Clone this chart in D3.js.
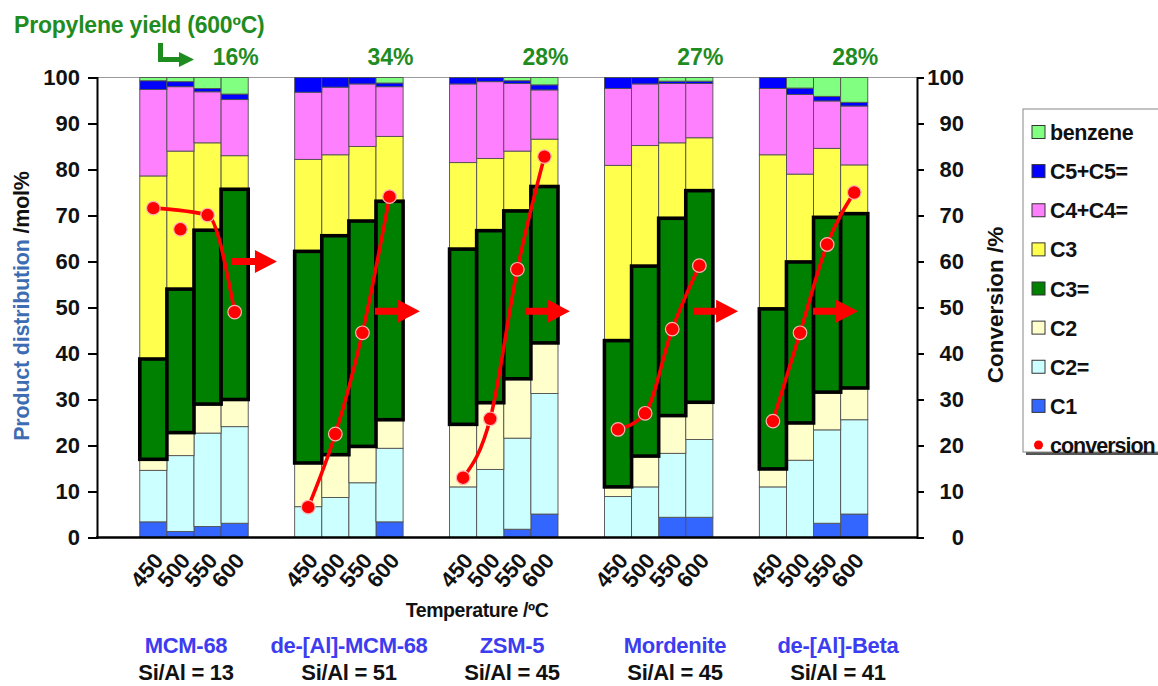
<!DOCTYPE html>
<html><head><meta charset="utf-8">
<script src="https://cdn.jsdelivr.net/npm/d3@7"></script>
<style>body{margin:0;background:#fff}svg{display:block;font-family:"Liberation Sans",Arial,sans-serif}</style>
</head><body><svg id="chart" width="1158" height="686"></svg>
<script>
// ---------------- data ----------------
const catalysts = ["MCM-68", "de-[Al]-MCM-68", "ZSM-5", "Mordenite", "de-[Al]-Beta"];
const siAlRatios = ["Si/Al = 13", "Si/Al = 51", "Si/Al = 45", "Si/Al = 45", "Si/Al = 41"];
const temperatures = ["450", "500", "550", "600"];
const propyleneYield = ["16%", "34%", "28%", "27%", "28%"];
const seriesNames = ["C1", "C2=", "C2", "C3=", "C3", "C4+C4=", "C5+C5=", "benzene"];
const yTicks = [0, 10, 20, 30, 40, 50, 60, 70, 80, 90, 100];
// product distribution (mol%), catalyst-major / temperature-minor order
const C1      = [3.4, 1.3, 2.4, 3.1,   0, 0, 0, 3.4,        0, 0, 1.8, 5.1,      0, 0, 4.4, 4.4,      0, 0, 3.1, 5.1];
const C2ene   = [11.2, 16.5, 20.3, 21.0,  6.7, 8.7, 11.9, 16.0,  11.0, 14.8, 19.8, 26.2,  8.9, 11.0, 13.9, 16.9,  11.0, 16.8, 20.3, 20.5];
const C2      = [2.4, 5.0, 6.3, 5.9,   9.5, 9.3, 7.9, 6.2,    13.6, 14.5, 12.9, 11.0,  2.1, 6.7, 8.2, 8.1,    3.9, 8.1, 8.2, 6.9];
const C3ene   = [21.8, 31.2, 37.8, 45.7,  46.0, 47.6, 49.0, 47.5,  38.1, 37.4, 36.5, 34.0,  31.8, 41.3, 42.9, 46.0,  34.8, 35.0, 38.0, 37.9];
const C3      = [39.8, 30.0, 19.0, 7.3,  20.0, 17.6, 16.2, 14.1,  18.8, 15.7, 13.0, 10.3,  38.1, 26.2, 16.4, 11.5,  33.5, 19.1, 15.0, 10.6];
const C4      = [18.8, 14.0, 11.1, 12.2,  14.6, 14.7, 13.6, 10.8,  17.1, 16.7, 14.7, 10.7,  16.7, 13.4, 12.9, 11.8,  14.4, 17.3, 10.3, 12.8];
const C5      = [1.9, 1.1, 0.7, 1.2,   3.2, 2.1, 1.4, 0.8,    1.4, 0.9, 0.6, 1.1,    2.4, 1.4, 0.5, 0.5,    2.4, 1.4, 1.0, 0.8];
const benzene = [0.7, 0.9, 2.4, 3.6,   0, 0, 0, 1.2,          0, 0, 0.7, 1.6,        0, 0, 0.8, 0.8,        0, 2.3, 4.1, 5.4];
// conversion (%)
const conversion = [71.6, 67.0, 70.1, 49.0,  6.6, 22.5, 44.5, 74.1,  13.0, 25.8, 58.3, 82.8,  23.5, 27.0, 45.3, 59.1,  25.3, 44.5, 63.7, 75.0];
// temperatures left out of the drawn conversion trend line, per catalyst
const trendExcluded = [["500"], [], [], [], []];
// red arrow annotations: level (%) and start (in bar widths from group start)
const arrowLevel = [60, 49.2, 49.2, 49.2, 49.2];
const arrowStart = [3.4, 2.96, 2.78, 3.27, 1.98];

const seriesValues = {"C1": C1, "C2=": C2ene, "C2": C2, "C3=": C3ene, "C3": C3, "C4+C4=": C4, "C5+C5=": C5, "benzene": benzene};
const seriesColors = {"C1": "#3366ff", "C2=": "#ccffff", "C2": "#ffffcc", "C3=": "#008000", "C3": "#ffff4d", "C4+C4=": "#ff80ff", "C5+C5=": "#0000ff", "benzene": "#80ff80"};

// ---------------- layout ----------------
const svg = d3.select("#chart");
const FONT = '"Liberation Sans", Arial, sans-serif';
const GREEN = "#1f8c1f";
const plotL = 97, plotR = 917, plotT = 77.5, plotB = 537.5;

const x0 = d3.scaleBand().domain(catalysts).range([plotL, plotR]).paddingInner(0.30).paddingOuter(0.297).align(0.465);
const x1 = d3.scaleBand().domain(temperatures).range([0, x0.bandwidth()]);
const y = d3.scaleLinear().domain([0, 100]).range([plotB, plotT]);
const yConv = d3.scaleLinear().domain([0, 100]).range([plotB, plotT]);
const labelX = d3.scalePoint().domain(catalysts).range([186, 838]);

const rows = [];
catalysts.forEach((c, i) => temperatures.forEach((t, j) => {
  const r = {cat: c, temp: t, idx: i * 4 + j, conv: conversion[i * 4 + j]};
  seriesNames.forEach(s => r[s] = seriesValues[s][i * 4 + j]);
  rows.push(r);
}));
const barX = d => x0(d.cat) + x1(d.temp);
const bw = x1.bandwidth();

const stacked = d3.stack().keys(seriesNames)(rows);

// top frame line
svg.append("line").attr("x1", plotL).attr("x2", plotR).attr("y1", y(100)).attr("y2", y(100))
  .attr("stroke", "#9a9a9a").attr("stroke-width", 1.2);

// bars (normal layers first, C3= with heavy outline last)
const order = stacked.filter(l => l.key !== "C3=").concat(stacked.filter(l => l.key === "C3="));
order.forEach(layer => {
  const heavy = layer.key === "C3=";
  svg.append("g").selectAll("rect")
    .data(layer.filter(d => d[1] - d[0] > 0.001))
    .join("rect")
    .attr("x", d => barX(d.data))
    .attr("width", bw)
    .attr("y", d => y(d[1]))
    .attr("height", d => y(d[0]) - y(d[1]))
    .attr("fill", seriesColors[layer.key])
    .attr("stroke", heavy ? "#000" : "#505050")
    .attr("stroke-width", heavy ? 3.6 : 0.9);
});

// axes
const gl = svg.append("g").attr("transform", `translate(${plotL},0)`)
  .call(d3.axisLeft(y).tickValues(yTicks).tickSize(9).tickPadding(8).tickFormat(d3.format("d")));
gl.select(".domain").attr("stroke", "#000").attr("stroke-width", 2);
gl.selectAll(".tick line").attr("stroke", "#000").attr("stroke-width", 2);
gl.selectAll(".tick text").attr("font-family", FONT).attr("font-size", 22).attr("font-weight", "bold").attr("fill", "#111");

const gr = svg.append("g").attr("transform", `translate(${plotR},0)`)
  .call(d3.axisRight(yConv).tickValues(yTicks).tickSize(7).tickFormat(d3.format("d")));
gr.select(".domain").attr("stroke", "#000").attr("stroke-width", 2);
gr.selectAll(".tick line").attr("stroke", "#000").attr("stroke-width", 2);
gr.selectAll(".tick text").attr("font-family", FONT).attr("font-size", 22).attr("font-weight", "bold").attr("fill", "#111")
  .attr("text-anchor", "end").attr("x", 47);

svg.append("line").attr("x1", plotL - 1).attr("x2", plotR + 1).attr("y1", y(0)).attr("y2", y(0))
  .attr("stroke", "#000").attr("stroke-width", 2.4);

// x tick labels (rotated)
svg.append("g").selectAll("text").data(rows).join("text")
  .attr("transform", d => `translate(${barX(d) + bw / 2 + 11},561) rotate(-50)`)
  .attr("text-anchor", "end")
  .attr("font-size", 22).attr("font-weight", "bold").attr("fill", "#111")
  .text(d => d.temp);

// conversion trend lines and points
const line = d3.line().x(d => barX(d) + bw / 2).y(d => yConv(d.conv)).curve(d3.curveMonotoneX);
catalysts.forEach((c, i) => {
  const pts = rows.filter(r => r.cat === c && !trendExcluded[i].includes(r.temp));
  svg.append("path").attr("d", line(pts)).attr("fill", "none").attr("stroke", "#ff0000").attr("stroke-width", 3.6);
});
svg.append("g").selectAll("circle").data(rows).join("circle")
  .attr("cx", d => barX(d) + bw / 2).attr("cy", d => yConv(d.conv)).attr("r", 6.8)
  .attr("fill", "#ff0000").attr("stroke", "#ffb3b3").attr("stroke-width", 1.2);

// red arrows
catalysts.forEach((c, i) => {
  const xs = x0(c) + arrowStart[i] * bw, yc = y(arrowLevel[i]);
  svg.append("path")
    .attr("d", `M${xs},${yc - 3.5}H${xs + 23}V${yc - 11.5}L${xs + 45},${yc}L${xs + 23},${yc + 11.5}V${yc + 3.5}H${xs}Z`)
    .attr("fill", "#ff0000");
});

// propylene yield annotations
svg.append("text").attr("x", 14).attr("y", 33).attr("font-size", 23).attr("font-weight", "bold")
  .attr("fill", GREEN).attr("letter-spacing", -0.2).text("Propylene yield (600ºC)");
svg.append("path").attr("d", "M160.5,43V59.5H180").attr("fill", "none").attr("stroke", GREEN).attr("stroke-width", 5);
svg.append("path").attr("d", "M179,52L194,59.5L179,67Z").attr("fill", GREEN);
svg.append("g").selectAll("text").data(catalysts).join("text")
  .attr("x", (c) => x0(c) + x1("600") + bw / 2 + 1).attr("y", 65)
  .attr("text-anchor", "middle").attr("font-size", 23).attr("font-weight", "bold").attr("fill", GREEN)
  .text((c, i) => propyleneYield[i]);

// axis titles
svg.append("text").attr("transform", `translate(29,${(172 + 440) / 2}) rotate(-90)`)
  .attr("text-anchor", "middle").attr("font-size", 21.5).attr("font-weight", "bold").attr("letter-spacing", -0.2)
  .call(t => { t.append("tspan").attr("fill", "#3d6cb3").text("Product distribution "); t.append("tspan").attr("fill", "#111").text("/mol%"); });
svg.append("text").attr("transform", `translate(1003,305) rotate(-90)`)
  .attr("text-anchor", "middle").attr("font-size", 22.5).attr("font-weight", "bold")
  .attr("fill", "#111").text("Conversion /%");
svg.append("text").attr("x", (plotL + plotR) / 2 - 30).attr("y", 617).attr("text-anchor", "middle")
  .attr("font-size", 19.5).attr("font-weight", "bold").attr("letter-spacing", -0.4).attr("fill", "#111").text("Temperature /ºC");

// catalyst labels
svg.append("g").selectAll("text").data(catalysts).join("text")
  .attr("x", c => labelX(c)).attr("y", 653).attr("text-anchor", "middle")
  .attr("font-size", 22).attr("font-weight", "bold").attr("letter-spacing", -0.3).attr("fill", "#3c3cf0").text(c => c);
svg.append("g").selectAll("text").data(catalysts).join("text")
  .attr("x", c => labelX(c)).attr("y", 680).attr("text-anchor", "middle")
  .attr("font-size", 22).attr("font-weight", "bold").attr("letter-spacing", -0.3).attr("fill", "#111").text((c, i) => siAlRatios[i]);

// legend
const lg = svg.append("g");
lg.append("rect").attr("x", 1026).attr("y", 112).attr("width", 160).attr("height", 343).attr("fill", "#555");
lg.append("rect").attr("x", 1023).attr("y", 109).attr("width", 160).attr("height", 343).attr("fill", "#fff").attr("stroke", "#888").attr("stroke-width", 1);
const legendItems = seriesNames.slice().reverse().concat(["conversion"]);
const ly = d3.scalePoint().domain(legendItems).range([132, 445]);
legendItems.forEach(k => {
  const g = lg.append("g").attr("transform", `translate(1032,${ly(k)})`);
  if (k === "conversion") {
    g.append("circle").attr("cx", 6.5).attr("cy", 0).attr("r", 4.5).attr("fill", "#ff0000");
  } else {
    g.append("rect").attr("x", 0).attr("y", -6.5).attr("width", 13).attr("height", 13)
      .attr("fill", seriesColors[k]).attr("stroke", "#333").attr("stroke-width", 1);
  }
  g.append("text").attr("x", 18).attr("y", 8).attr("font-size", 21.5).attr("font-weight", "bold")
    .attr("letter-spacing", k === "conversion" ? -1.0 : -0.4).attr("fill", "#111").text(k);
});
</script></body></html>
